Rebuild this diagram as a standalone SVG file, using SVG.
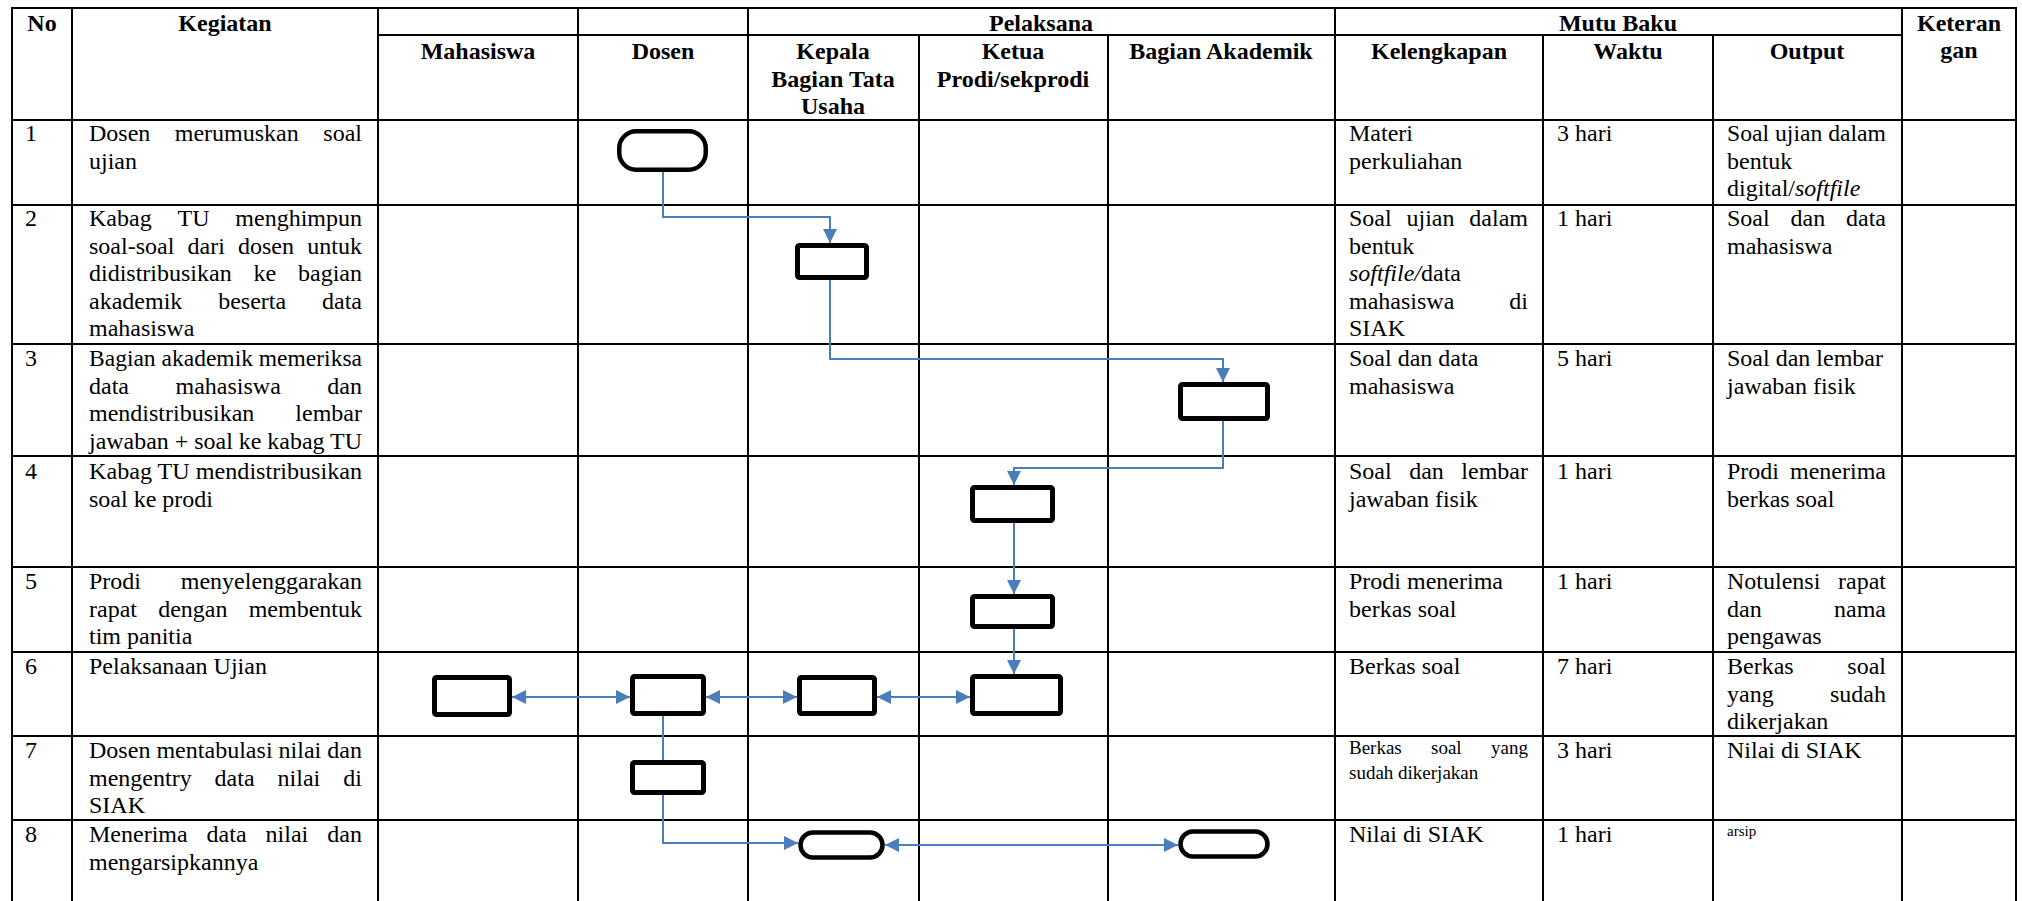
<svg xmlns="http://www.w3.org/2000/svg" width="2022" height="901" viewBox="0 0 2022 901">
<style>
.grid line{stroke:#000;stroke-width:2}
.t{font-family:"Liberation Serif","Times New Roman",serif;font-size:24px;fill:#000}
.b{font-weight:bold}
.m{text-anchor:middle}
.e{text-anchor:end}
.i{font-style:italic}
.sm{font-size:19px}
.xs{font-size:15px}
.box{fill:#fff;stroke:#000;stroke-width:5}
.ov{fill:#fff;stroke:#000;stroke-width:4.5}
.con path{fill:none;stroke:#4a7ebb;stroke-width:2}
</style>
<defs>
<marker id="ah" viewBox="0 0 14 14" markerWidth="14" markerHeight="14" refX="14" refY="7" markerUnits="userSpaceOnUse" orient="auto-start-reverse"><path d="M0,0 L14,7 L0,14 z" fill="#4a7ebb"/></marker>
</defs>
<rect width="2022" height="901" fill="#fff"/>
<g class="grid">
<line x1="12" y1="7" x2="12" y2="901"/>
<line x1="72" y1="7" x2="72" y2="901"/>
<line x1="378" y1="7" x2="378" y2="901"/>
<line x1="578" y1="7" x2="578" y2="901"/>
<line x1="748" y1="7" x2="748" y2="901"/>
<line x1="919" y1="35" x2="919" y2="901"/>
<line x1="1108" y1="35" x2="1108" y2="901"/>
<line x1="1335" y1="7" x2="1335" y2="901"/>
<line x1="1543" y1="35" x2="1543" y2="901"/>
<line x1="1713" y1="35" x2="1713" y2="901"/>
<line x1="1902" y1="7" x2="1902" y2="901"/>
<line x1="2016" y1="7" x2="2016" y2="901"/>
<line x1="11" y1="8" x2="2017" y2="8"/>
<line x1="378" y1="35" x2="1902" y2="35"/>
<line x1="11" y1="120" x2="2017" y2="120"/>
<line x1="11" y1="205" x2="2017" y2="205"/>
<line x1="11" y1="344" x2="2017" y2="344"/>
<line x1="11" y1="456" x2="2017" y2="456"/>
<line x1="11" y1="567" x2="2017" y2="567"/>
<line x1="11" y1="652" x2="2017" y2="652"/>
<line x1="11" y1="736" x2="2017" y2="736"/>
<line x1="11" y1="820" x2="2017" y2="820"/>
</g>
<g id="header" class="t b m">
<text x="42" y="31">No</text>
<text x="225" y="31">Kegiatan</text>
<text x="1041" y="31">Pelaksana</text>
<text x="1618" y="31">Mutu Baku</text>
<text x="1959" y="31">Keteran</text>
<text x="1959" y="58">gan</text>
<text x="478" y="59">Mahasiswa</text>
<text x="663" y="59">Dosen</text>
<text x="833" y="59">Kepala</text>
<text x="833" y="86.5">Bagian Tata</text>
<text x="833" y="114">Usaha</text>
<text x="1013" y="59">Ketua</text>
<text x="1013" y="86.5">Prodi/sekprodi</text>
<text x="1221" y="59">Bagian Akademik</text>
<text x="1439" y="59">Kelengkapan</text>
<text x="1628" y="59">Waktu</text>
<text x="1807" y="59">Output</text>
</g>
<g id="col-no" class="t">
<text x="25" y="141">1</text>
<text x="25" y="226">2</text>
<text x="25" y="366">3</text>
<text x="25" y="479">4</text>
<text x="25" y="589">5</text>
<text x="25" y="674">6</text>
<text x="25" y="758">7</text>
<text x="25" y="842">8</text>
</g>
<g id="col-kegiatan" class="t">
<text x="89" y="141">Dosen</text><text x="174.8" y="141">merumuskan</text><text class="e" x="362" y="141">soal</text>
<text x="89" y="168.6">ujian</text>
<text x="89" y="226">Kabag</text><text x="177.5" y="226">TU</text><text class="e" x="362" y="226">menghimpun</text>
<text x="89" y="253.6">soal-soal</text><text x="187.5" y="253.6">dari</text><text x="238" y="253.6">dosen</text><text class="e" x="362" y="253.6">untuk</text>
<text x="89" y="281.2">didistribusikan</text><text x="253.5" y="281.2">ke</text><text class="e" x="362" y="281.2">bagian</text>
<text x="89" y="308.8">akademik</text><text x="218.2" y="308.8">beserta</text><text class="e" x="362" y="308.8">data</text>
<text x="89" y="336.4">mahasiswa</text>
<text x="89" y="366" textLength="273" lengthAdjust="spacingAndGlyphs">Bagian akademik memeriksa</text>
<text x="89" y="393.6">data</text><text x="175.5" y="393.6">mahasiswa</text><text class="e" x="362" y="393.6">dan</text>
<text x="89" y="421.2">mendistribusikan</text><text class="e" x="362" y="421.2">lembar</text>
<text x="89" y="448.8" textLength="273" lengthAdjust="spacingAndGlyphs">jawaban + soal ke kabag TU</text>
<text x="89" y="479" textLength="273" lengthAdjust="spacingAndGlyphs">Kabag TU mendistribusikan</text>
<text x="89" y="506.6">soal ke prodi</text>
<text x="89" y="589">Prodi</text><text class="e" x="362" y="589">menyelenggarakan</text>
<text x="89" y="616.6">rapat</text><text x="158.2" y="616.6">dengan</text><text class="e" x="362" y="616.6">membentuk</text>
<text x="89" y="644.2">tim panitia</text>
<text x="89" y="674">Pelaksanaan Ujian</text>
<text x="89" y="758" textLength="273" lengthAdjust="spacingAndGlyphs">Dosen mentabulasi nilai dan</text>
<text x="89" y="785.6">mengentry</text><text x="214.6" y="785.6">data</text><text x="277.6" y="785.6">nilai</text><text class="e" x="362" y="785.6">di</text>
<text x="89" y="813.2">SIAK</text>
<text x="89" y="842">Menerima</text><text x="206.6" y="842">data</text><text x="265.6" y="842">nilai</text><text class="e" x="362" y="842">dan</text>
<text x="89" y="869.6">mengarsipkannya</text>
</g>
<g id="col-kelengkapan" class="t">
<text x="1349" y="141">Materi</text>
<text x="1349" y="168.6">perkuliahan</text>
<text x="1349" y="226">Soal</text><text x="1406.5" y="226">ujian</text><text class="e" x="1528" y="226">dalam</text>
<text x="1349" y="253.6">bentuk</text>
<text x="1349" y="281.2"><tspan class="i">softfile/</tspan>data</text>
<text x="1349" y="308.8">mahasiswa</text><text class="e" x="1528" y="308.8">di</text>
<text x="1349" y="336.4">SIAK</text>
<text x="1349" y="366">Soal dan data</text>
<text x="1349" y="393.6">mahasiswa</text>
<text x="1349" y="479">Soal</text><text x="1409.2" y="479">dan</text><text class="e" x="1528" y="479">lembar</text>
<text x="1349" y="506.6">jawaban fisik</text>
<text x="1349" y="589">Prodi menerima</text>
<text x="1349" y="616.6">berkas soal</text>
<text x="1349" y="674">Berkas soal</text>
<text class="sm" x="1349" y="754">Berkas</text><text class="sm" x="1431" y="754">soal</text><text class="sm e" x="1528" y="754">yang</text>
<text class="sm" x="1349" y="779">sudah dikerjakan</text>
<text x="1349" y="842">Nilai di SIAK</text>
</g>
<g id="col-waktu" class="t">
<text x="1557" y="141">3 hari</text>
<text x="1557" y="226">1 hari</text>
<text x="1557" y="366">5 hari</text>
<text x="1557" y="479">1 hari</text>
<text x="1557" y="589">1 hari</text>
<text x="1557" y="674">7 hari</text>
<text x="1557" y="758">3 hari</text>
<text x="1557" y="842">1 hari</text>
</g>
<g id="col-output" class="t">
<text x="1727" y="141" textLength="159" lengthAdjust="spacingAndGlyphs">Soal ujian dalam</text>
<text x="1727" y="168.6">bentuk</text>
<text x="1727" y="196.2">digital/<tspan class="i">softfile</tspan></text>
<text x="1727" y="226">Soal</text><text x="1790.5" y="226">dan</text><text class="e" x="1886" y="226">data</text>
<text x="1727" y="253.6">mahasiswa</text>
<text x="1727" y="366">Soal dan lembar</text>
<text x="1727" y="393.6">jawaban fisik</text>
<text x="1727" y="479">Prodi</text><text class="e" x="1886" y="479">menerima</text>
<text x="1727" y="506.6">berkas soal</text>
<text x="1727" y="589">Notulensi</text><text class="e" x="1886" y="589">rapat</text>
<text x="1727" y="616.6">dan</text><text class="e" x="1886" y="616.6">nama</text>
<text x="1727" y="644.2">pengawas</text>
<text x="1727" y="674">Berkas</text><text class="e" x="1886" y="674">soal</text>
<text x="1727" y="701.6">yang</text><text class="e" x="1886" y="701.6">sudah</text>
<text x="1727" y="729.2">dikerjakan</text>
<text x="1727" y="758">Nilai di SIAK</text>
<text class="xs" x="1727" y="836">arsip</text>
</g>
<g class="con" id="connectors">
<path d="M663,172 V217 H830 V243" marker-end="url(#ah)"/>
<path d="M830,280 V359 H1223 V382" marker-end="url(#ah)"/>
<path d="M1223,421 V468 H1014 V485" marker-end="url(#ah)"/>
<path d="M1014,523 V594" marker-end="url(#ah)"/>
<path d="M1014,629 V674" marker-end="url(#ah)"/>
<path d="M512,697 H630" marker-start="url(#ah)" marker-end="url(#ah)"/>
<path d="M706,697 H797" marker-start="url(#ah)" marker-end="url(#ah)"/>
<path d="M877,697 H970" marker-start="url(#ah)" marker-end="url(#ah)"/>
<path d="M663,716 V760"/>
<path d="M663,795 V843 H798" marker-end="url(#ah)"/>
<path d="M885,845 H1178" marker-start="url(#ah)" marker-end="url(#ah)"/>
</g>
<g id="n1-start"><rect class="ov" x="619.25" y="131.25" width="86.5" height="38.5" rx="17"/></g>
<g id="n2-kabag-tu"><rect class="box" x="797.5" y="245.5" width="69" height="32" rx="2"/></g>
<g id="n3-akademik"><rect class="box" x="1180.5" y="384.5" width="87" height="34" rx="2"/></g>
<g id="n4-prodi"><rect class="box" x="972.5" y="487.5" width="80" height="33" rx="2"/></g>
<g id="n5-prodi"><rect class="box" x="972.5" y="596.5" width="80" height="30" rx="2"/></g>
<g id="n6-mahasiswa"><rect class="box" x="434.5" y="677.5" width="75" height="37" rx="2"/></g>
<g id="n6-dosen"><rect class="box" x="632.5" y="676.5" width="71" height="37" rx="2"/></g>
<g id="n6-kabag-tu"><rect class="box" x="799.5" y="677.5" width="75" height="36" rx="2"/></g>
<g id="n6-prodi"><rect class="box" x="972.5" y="676.5" width="88" height="37" rx="2"/></g>
<g id="n7-dosen"><rect class="box" x="632.5" y="762.5" width="71" height="30" rx="2"/></g>
<g id="n8-end-tu"><rect class="ov" x="800.5" y="832.5" width="82" height="25" rx="12.5"/></g>
<g id="n8-end-akademik"><rect class="ov" x="1180.5" y="831.5" width="87" height="25" rx="12.5"/></g>
</svg>
